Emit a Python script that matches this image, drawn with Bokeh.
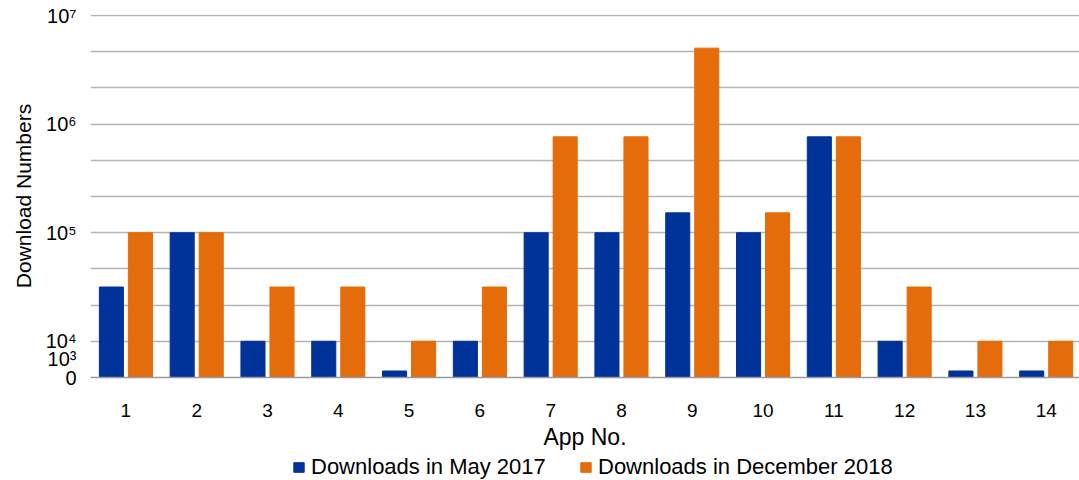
from bokeh.plotting import figure
from bokeh.layouts import column
from bokeh.models import (ColumnDataSource, FixedTicker, Range1d, Legend, LegendItem)
from bokeh.transform import dodge
from bokeh.embed import file_html
from bokeh.resources import INLINE

# App numbers (categories)
apps = [str(i) for i in range(1, 15)]
app_pos = list(range(1, 15))

# Bar heights in the chart's own (relabelled, linear) axis units
# 0 -> "0", 1 -> 10^4, 4 -> 10^5, 7 -> 10^6, 10 -> 10^7
may_2017 = [2.5, 4.0, 1.0, 1.0, 0.18, 1.0, 4.0, 4.0, 4.55, 4.0, 6.65, 1.0, 0.18, 0.18]
dec_2018 = [4.0, 4.0, 2.5, 2.5, 1.0, 2.5, 6.65, 6.65, 9.1, 4.55, 6.65, 2.5, 1.0, 1.0]

# y tick positions and labels
y_tick_pos = [0, 0.5, 1, 4, 7, 10]
y_tick_labels = ["0", "10³", "10⁴", "10⁵", "10⁶", "10⁷"]
grid_pos = list(range(0, 11))

series_names = ["Downloads in May 2017", "Downloads in December 2018"]

BLUE = "#003399"
ORANGE = "#e46c0a"
FONT = "Liberation Sans"
TXT = "#000000"

src = ColumnDataSource(dict(x=app_pos, may=may_2017, dec=dec_2018))

p = figure(width=1079, height=452, output_backend="svg", toolbar_location=None,
           x_range=Range1d(0.5, 14.47), y_range=Range1d(0, 10.03),
           min_border_left=90, min_border_right=0, min_border_top=14,
           min_border_bottom=74)
p.outline_line_color = None
p.background_fill_color = "white"

r1 = p.vbar(x=dodge("x", -0.205, range=p.x_range), top="may", width=0.34,
            source=src, fill_color=BLUE, line_color=BLUE, line_width=1)
r2 = p.vbar(x=dodge("x", 0.205, range=p.x_range), top="dec", width=0.34,
            source=src, fill_color=ORANGE, line_color=ORANGE, line_width=1)

# x axis
p.xaxis.ticker = FixedTicker(ticks=app_pos)
p.xaxis.major_label_overrides = {pos: lab for pos, lab in zip(app_pos, apps)}
p.xaxis.major_tick_line_color = None
p.xaxis.minor_tick_line_color = None
p.xaxis.axis_line_color = "#9a9a9a"
p.xaxis.axis_line_width = 1.5
p.xaxis.major_label_text_font = FONT
p.xaxis.major_label_text_font_size = "19px"
p.xaxis.major_label_text_color = TXT
p.xaxis.major_label_standoff = 20
p.xaxis.axis_label = "App No."
p.xaxis.axis_label_text_font = FONT
p.xaxis.axis_label_text_font_size = "23px"
p.xaxis.axis_label_text_font_style = "normal"
p.xaxis.axis_label_text_color = TXT
p.xaxis.axis_label_standoff = 4

# y axis
p.yaxis.ticker = FixedTicker(ticks=y_tick_pos)
p.yaxis.major_label_overrides = {pos: lab for pos, lab in zip(y_tick_pos, y_tick_labels)}
p.yaxis.major_tick_line_color = None
p.yaxis.minor_tick_line_color = None
p.yaxis.axis_line_color = None
p.yaxis.major_label_text_font = FONT
p.yaxis.major_label_text_font_size = "20px"
p.yaxis.major_label_text_color = TXT
p.yaxis.major_label_standoff = 8
p.yaxis.axis_label = "Download Numbers"
p.yaxis.axis_label_text_font = FONT
p.yaxis.axis_label_text_font_size = "21px"
p.yaxis.axis_label_text_font_style = "normal"
p.yaxis.axis_label_text_color = TXT
p.yaxis.axis_label_standoff = 8

# grids
p.xgrid.grid_line_color = None
p.ygrid.ticker = FixedTicker(ticks=grid_pos)
p.ygrid.grid_line_color = "#b4b4b4"
p.ygrid.grid_line_width = 1.3

# legend strip below the chart (its ranges keep the proxy bars out of view)
lg = figure(width=1079, height=28, output_backend="svg", toolbar_location=None,
            x_range=Range1d(100, 101), y_range=Range1d(100, 101),
            x_axis_type=None, y_axis_type=None,
            min_border_left=0, min_border_right=0, min_border_top=0, min_border_bottom=0)
lg.outline_line_color = None
lg.xgrid.grid_line_color = None
lg.ygrid.grid_line_color = None
k1 = lg.vbar(x="x", top="may", width=0.34, source=src, fill_color=BLUE, line_color=BLUE)
k2 = lg.vbar(x="x", top="dec", width=0.34, source=src, fill_color=ORANGE, line_color=ORANGE)

for rend, name, xloc in [(k1, series_names[0], 202), (k2, series_names[1], 489)]:
    leg = Legend(items=[LegendItem(label=name, renderers=[rend])],
                 orientation="horizontal", location=(xloc, 0))
    leg.border_line_color = None
    leg.background_fill_alpha = 0
    leg.label_text_font = FONT
    leg.label_text_font_size = "22px"
    leg.label_text_color = TXT
    leg.glyph_width = 13
    leg.glyph_height = 12
    leg.padding = 0
    leg.margin = 0
    leg.label_standoff = 6
    leg.label_height = 12
    lg.add_layout(leg, "center")

layout = column(p, lg, spacing=0)
open("out.html", "w").write(file_html(layout, INLINE))
